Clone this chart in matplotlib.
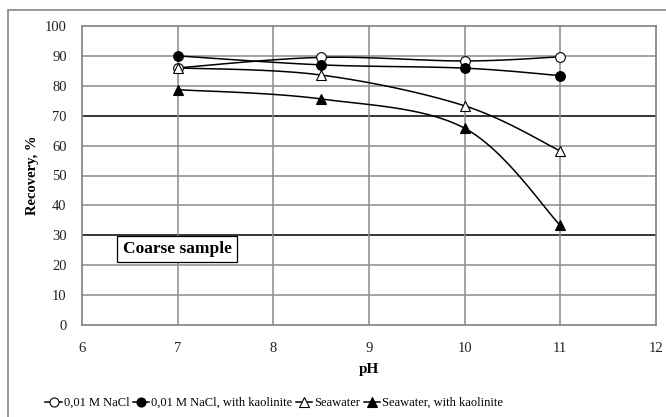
import matplotlib
matplotlib.use("Agg")
import matplotlib.pyplot as plt
import numpy as np
from matplotlib.patches import Rectangle

ph = [7, 8.5, 10, 11]
nacl = [86, 89.5, 88.3, 89.7]
nacl_kaol = [90, 87, 85.9, 83.4]
seawater = [86, 83.6, 73.3, 58.2]
seawater_kaol = [78.7, 75.6, 65.8, 33.3]
labels = ["0,01 M NaCl", "0,01 M NaCl, with kaolinite", "Seawater", "Seawater, with kaolinite"]

plt.rcParams['font.family'] = ['Liberation Serif', 'DejaVu Serif']


def smooth(x, y, n=40):
    # Excel-like smoothed line: cubic bezier, control points from neighbours
    x = np.asarray(x, float)
    y = np.asarray(y, float)
    px = np.concatenate([[x[0]], x, [x[-1]]])
    py = np.concatenate([[y[0]], y, [y[-1]]])
    xs, ys = [], []
    t = np.linspace(0, 1, n)
    for i in range(len(x) - 1):
        p0 = np.array([px[i + 1], py[i + 1]])
        p3 = np.array([px[i + 2], py[i + 2]])
        c1 = p0 + (np.array([px[i + 2], py[i + 2]]) - np.array([px[i], py[i]])) / 6
        c2 = p3 - (np.array([px[i + 3], py[i + 3]]) - np.array([px[i + 1], py[i + 1]])) / 6
        b = ((1 - t) ** 3)[:, None] * p0 + (3 * (1 - t) ** 2 * t)[:, None] * c1 \
            + (3 * (1 - t) * t ** 2)[:, None] * c2 + (t ** 3)[:, None] * p3
        xs.extend(b[:, 0])
        ys.extend(b[:, 1])
    return xs, ys


fig = plt.figure(figsize=(6.66, 4.17), dpi=100)
fig.patch.set_facecolor('white')
fig.patches.append(Rectangle((8 / 666, -0.05), 1.2, 1 - 10 / 417 + 0.05,
                             transform=fig.transFigure, fill=False,
                             edgecolor='#868686', linewidth=1.2))

ax = fig.add_axes([82 / 666, 1 - 325 / 417, 574 / 666, 299 / 417])
ax.set_xlim(6, 12)
ax.set_ylim(0, 100)
ax.set_xticks(np.arange(6, 13, 1))
ax.set_yticks(np.arange(0, 101, 10))
ax.tick_params(length=0, labelsize=10.5, pad=11, labelcolor='#222222')
ax.tick_params(axis='x', pad=12)
for s in ax.spines.values():
    s.set_color('#808080')
    s.set_linewidth(1.2)

for v in range(10, 100, 10):
    c = 'black' if v in (30, 70) else '#8a8a8a'
    ax.axhline(v, color=c, linewidth=1.1, zorder=0)
for v in range(7, 12):
    ax.axvline(v, color='#8a8a8a', linewidth=1.1, zorder=0)

series = [
    (nacl, 'o', 'white'),
    (nacl_kaol, 'o', 'black'),
    (seawater, '^', 'white'),
    (seawater_kaol, '^', 'black'),
]
handles = []
for (vals, m, fc), lab in zip(series, labels):
    xs, ys = smooth(ph, vals)
    ax.plot(xs, ys, color='black', linewidth=1.1, zorder=3)
    ax.plot(ph, vals, linestyle='none', marker=m, markersize=7,
            markerfacecolor=fc, markeredgecolor='black', markeredgewidth=0.8, zorder=4)
    h, = ax.plot([], [], color='black', linewidth=1.1, marker=m, markersize=6.5,
                 markerfacecolor=fc, markeredgecolor='black', markeredgewidth=0.8, label=lab)
    handles.append(h)

ax.set_xlabel('pH', fontsize=11, fontweight='bold', labelpad=6)
ax.set_ylabel('Recovery, %', fontsize=10.5, fontweight='bold', labelpad=4)

ax.text(6.425, 25.5, 'Coarse sample', fontsize=12.5, fontweight='bold', va='center',
        bbox=dict(boxstyle='square,pad=0.3', facecolor='white', edgecolor='black', linewidth=0.9),
        zorder=5)

fig.legend(handles=handles, loc='center', bbox_to_anchor=(274 / 666, 1 - 403 / 417), ncol=4,
           frameon=False, fontsize=9, handlelength=1.3, handletextpad=0.15,
           columnspacing=0.3, borderaxespad=0)

fig.savefig('out.png', dpi=100, facecolor='white')
